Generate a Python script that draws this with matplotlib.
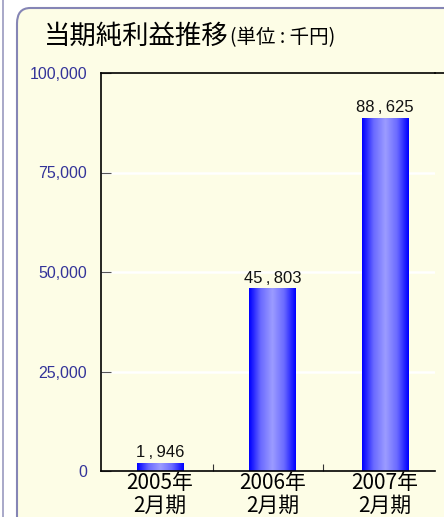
import numpy as np
import matplotlib.pyplot as plt
from matplotlib.patches import FancyBboxPatch
from matplotlib.lines import Line2D

plt.rcParams['font.family'] = ['Noto Sans CJK JP', 'DejaVu Sans']
latin = ['Liberation Sans', 'DejaVu Sans']

# データ
periods = ['2005年\n2月期', '2006年\n2月期', '2007年\n2月期']
profit = [1946, 45803, 88625]
value_labels = ['1\u2009,\u2009946', '45\u2009,\u2009803', '88\u2009,\u2009625']
yticks = [0, 25000, 50000, 75000, 100000]
ytick_labels = ['0', '25,000', '50,000', '75,000', '100,000']

fig = plt.figure(figsize=(4.44, 5.17), dpi=100)
fig.patch.set_facecolor('white')

# 外枠パネル
panel = FancyBboxPatch((17 / 444, -0.05), 1.1, 1 - 8 / 517 + 0.05,
                       boxstyle='round,pad=0,rounding_size=0.03',
                       transform=fig.transFigure, facecolor='#fdfde6',
                       edgecolor='#8585b5', linewidth=1.5, zorder=-1)
fig.patches.append(panel)
fig.lines.append(Line2D([2.5 / 444, 2.5 / 444], [0, 1], transform=fig.transFigure,
                        color='#9a9ac0', linewidth=1.2))

fig.text(44 / 444, 1 - 36 / 517, '当期純利益推移', fontsize=19, va='center', ha='left')
fig.text(230 / 444, 1 - 38 / 517, '(単位 : 千円)', fontsize=14, va='center', ha='left')

ax = fig.add_axes([101 / 444, 1 - 471 / 517, (435 - 101) / 444, (471 - 73) / 517])
ax.set_facecolor('none')
ax.set_zorder(2)

x = np.arange(len(periods))
width = 0.41

# 横グリッド(白)
for v in yticks[1:-1]:
    ax.axhline(v, color='white', linewidth=1.8, zorder=1)

# グラデーション棒
grad = np.abs(np.linspace(-1, 1, 64))
grad = np.vstack([grad, grad])
cmap = plt.matplotlib.colors.LinearSegmentedColormap.from_list(
    'b', ['#9a9aff', '#6a6aff', '#0000ff'])
bars = ax.bar(x, profit, width=width, color='none', zorder=2)
for b, lab in zip(bars, value_labels):
    x0, w, h = b.get_x(), b.get_width(), b.get_height()
    ax.imshow(grad, cmap=cmap, extent=[x0, x0 + w, 0, h], aspect='auto', zorder=2,
              interpolation='bilinear')
    ax.text(x0 + w / 2, h + 700, lab, ha='center', va='bottom', fontsize=12,
            color='#111111', family=latin)
ax.set_xlim(-0.524, 2.445)
ax.set_ylim(0, 100000)

ax.set_yticks(yticks)
ax.set_yticklabels(ytick_labels, color='#333399', fontsize=11.5, family=latin)
ax.set_xticks([0.47, 1.45])
ax.set_xticklabels([])
ax.set_xticks(x, minor=True)
ax.set_xticklabels(periods, minor=True, fontsize=15, linespacing=1.05)
ax.tick_params(axis='x', which='minor', length=0, pad=1)
ax.tick_params(axis='x', which='major', direction='in', length=5, color='#333333')
ax.tick_params(axis='y', direction='in', length=7, color='#555555', pad=10)

ax.spines['right'].set_visible(False)
for s in ['left', 'bottom', 'top']:
    ax.spines[s].set_color('black')
    ax.spines[s].set_linewidth(1.2)
fig.lines.append(Line2D([435 / 444, 1], [1 - 73 / 517, 1 - 73 / 517],
                        transform=fig.transFigure, color='black', linewidth=1.2))

fig.savefig('out.png', dpi=100)
